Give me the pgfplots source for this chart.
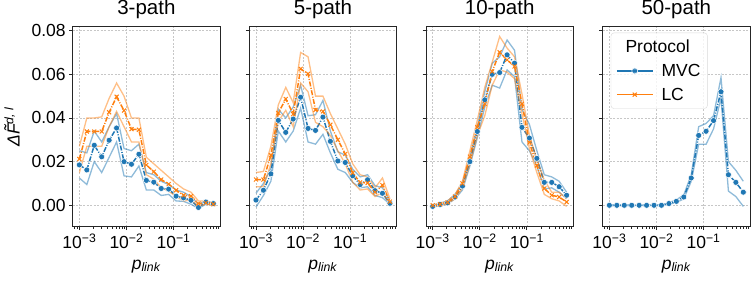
\documentclass[border=0pt]{standalone}
\usepackage{fontspec}
\setmainfont{Liberation Sans}
\usepackage{pgfplots}
\usepackage{pgfplotstable}
\pgfplotsset{compat=1.18}
\definecolor{c1}{HTML}{1F77B4}
\definecolor{c2}{HTML}{FF7F0E}
\newcommand{\fs}{\fontsize{17.5}{20}\selectfont}
\newcommand{\ft}{\fontsize{20.5}{24}\selectfont}

\pgfplotstableread{
x m mlo mhi l llo lhi
0.001    0.0185 0.0125 0.025  0.0212 0.015  0.027
0.001439 0.0162 0.0095 0.024  0.0338 0.027  0.040
0.00207  0.0275 0.020  0.034  0.0338 0.027  0.040
0.002979 0.0222 0.015  0.029  0.0338 0.027  0.0405
0.004286 0.0298 0.022  0.036  0.0426 0.036  0.049
0.006166 0.0354 0.029  0.042  0.0497 0.043  0.056
0.008872 0.0200 0.0135 0.026  0.0434 0.036  0.050
0.01276  0.0188 0.013  0.025  0.0349 0.029  0.040
0.01837  0.0234 0.018  0.028  0.0346 0.029  0.040
0.02642  0.0114 0.007  0.015  0.0185 0.014  0.022
0.03802  0.0106 0.007  0.014  0.0154 0.012  0.019
0.0547   0.0077 0.0045 0.011  0.0118 0.008  0.016
0.0787   0.0074 0.005  0.0095 0.0097 0.0065 0.013
0.1132   0.0042 0.002  0.007  0.0069 0.004  0.010
0.1629   0.0034 0.0018 0.006  0.0046 0.002  0.0075
0.2344   0.0023 0.0005 0.004  0.0042 0.0025 0.006
0.3373  -0.0010 -0.0015 0.0005 0.0008 -0.0002 0.002
0.4853   0.0015 0.0005 0.002  0.0011 0.0005 0.002
0.6982   0.0008 0.0003 0.001  0.0005 0.0    0.001
}\tA

\pgfplotstableread{
x m mlo mhi l llo lhi
0.001    0.0024 -0.0008 0.0055 0.0118 0.0085 0.015
0.001439 0.0069 0.0045 0.010  0.0118 0.0085 0.0155
0.00207  0.0144 0.011  0.017  0.0229 0.019  0.027
0.002979 0.0389 0.034  0.044  0.0423 0.0385 0.046
0.004286 0.0334 0.029  0.040  0.0487 0.0435 0.054
0.006166 0.0395 0.034  0.045  0.0418 0.036  0.047
0.008872 0.0495 0.0445 0.055  0.0625 0.056  0.070
0.01276  0.0352 0.029  0.041  0.0602 0.052  0.068
0.01837  0.0343 0.028  0.0415 0.0437 0.038  0.050
0.02642  0.0404 0.0325 0.048  0.0430 0.036  0.050
0.03802  0.0293 0.024  0.034  0.0369 0.032  0.042
0.0547   0.0203 0.0165 0.0245 0.0300 0.025  0.035
0.0787   0.0196 0.015  0.023  0.0235 0.019  0.028
0.1132   0.0135 0.0105 0.0165 0.0148 0.0105 0.019
0.1629   0.0095 0.008  0.013  0.0105 0.007  0.014
0.2344   0.0117 0.0085 0.014  0.0102 0.0075 0.013
0.3373   0.0067 0.0045 0.009  0.0060 0.004  0.008
0.4853   0.0055 0.0035 0.008  0.0092 0.006  0.0125
0.6982   0.0009 0.0005 0.002  0.0017 0.0005 0.003
}\tB

\pgfplotstableread{
x m mlo mhi l llo lhi
0.001   -0.0005 -0.001 0.0    0.0    -0.0005 0.0003
0.001439 0.0004 0.0    0.001  0.0005 0.0    0.0008
0.00207  0.0011 0.0005 0.002  0.0013 0.0008 0.002
0.002979 0.0038 0.003  0.005  0.0040 0.003  0.005
0.004286 0.0088 0.007  0.010  0.0100 0.008  0.011
0.006166 0.0200 0.018  0.022  0.0223 0.019  0.025
0.008872 0.0338 0.031  0.036  0.0358 0.032  0.039
0.01276  0.0483 0.045  0.052  0.0465 0.041  0.054
0.01837  0.0600 0.055  0.065  0.0613 0.055  0.0655
0.02642  0.0608 0.0537 0.068  0.0701 0.062  0.0773
0.03802  0.0689 0.062  0.0757 0.0666 0.061  0.072
0.0547   0.0651 0.059  0.071  0.0636 0.058  0.068
0.0787   0.0357 0.029  0.044  0.0465 0.042  0.051
0.1132   0.0308 0.025  0.037  0.0288 0.026  0.032
0.1629   0.0215 0.018  0.025  0.0182 0.015  0.021
0.2344   0.0105 0.0075 0.014  0.0077 0.005  0.0115
0.3373   0.0105 0.008  0.013  0.0046 0.003  0.006
0.4853   0.0085 0.006  0.011  0.0038 0.002  0.006
0.6982   0.0046 0.003  0.006  0.0015 -0.0005 0.003
}\tC

\pgfplotstableread{
x m mlo mhi
0.001    0.0 -0.0001 0.0001
0.001439 0.0 -0.0001 0.0001
0.00207  0.0 -0.0001 0.0001
0.002979 0.0 -0.0001 0.0001
0.004286 0.0 -0.0001 0.0001
0.006166 0.0 -0.0001 0.0001
0.008872 0.0 -0.0001 0.0001
0.01276  0.0 -0.0001 0.0002
0.01837  0.0008 0.0005 0.0012
0.02642  0.0018 0.0012 0.0025
0.03802  0.0038 0.003  0.0048
0.0547   0.0125 0.011  0.014
0.0787   0.0320 0.028  0.036
0.1132   0.0339 0.028  0.0375
0.1629   0.0388 0.035  0.041
0.2344   0.0520 0.049  0.0585
0.3373   0.0140 0.0065 0.020
0.4853   0.0105 0.004  0.016
0.6982   0.0060 -0.0005 0.011
}\tD

\pgfplotsset{
  scale only axis, width=147.3pt, height=200pt,
  xmin=7.21e-4, xmax=0.968, ymin=-0.0098, ymax=0.0818,
  xtick={0.001,0.01,0.1},
  xticklabels={10\textsuperscript{−3},10\textsuperscript{−2},10\textsuperscript{−1}},
  minor xtick={0.0008,0.0009,0.002,0.003,0.004,0.005,0.006,0.007,0.008,0.009,0.02,0.03,0.04,0.05,0.06,0.07,0.08,0.09,0.2,0.3,0.4,0.5,0.6,0.7,0.8,0.9},
  ytick={0,0.02,0.04,0.06,0.08},
  scaled y ticks=false,
  yticklabel style={/pgf/number format/fixed, /pgf/number format/fixed zerofill, /pgf/number format/precision=2, /pgf/number format/assume math mode=true},
  tick align=outside, tick pos=left,
  major tick length=3.5pt, minor tick length=2pt,
  grid=major, major grid style={dash pattern=on 2pt off 1.5pt, black!22, line width=0.6pt},
  axis line style={black!85, line width=0.9pt},
  every tick/.append style={black!85, line width=0.8pt},
  title style={font=\ft, at={(0.5,1)}, anchor=base, yshift=6pt},
  ticklabel style={font=\fs},
  label style={font=\fs},
  xlabel style={yshift=-4pt},
  ylabel style={yshift=5pt},
  bnd/.style={mark=none, line width=1.3pt, opacity=0.5, forget plot},
  mvc/.style={color=c1, line width=1.5pt, dash pattern=on 5pt off 1.5pt on 1pt off 1.5pt, mark=*, mark size=3pt, mark options={solid, fill=c1, draw=white, line width=0.5pt}},
  lc/.style={color=c2, line width=1.5pt, dash pattern=on 5pt off 1.5pt on 1pt off 1.5pt, mark=x, mark size=2.8pt, mark options={solid, line width=1pt}},
}

\begin{document}
\begin{tikzpicture}
\useasboundingbox (0,0) rectangle (756pt,288pt);

\begin{semilogxaxis}[at={(72.7pt,61.3pt)}, anchor=south west, title={3-path},
  xlabel={\textit{p}\textsubscript{\textit{link}}},
  ylabel={\textit{Δ\~{F}}\textsuperscript{\textit{d, l}}}]
\addplot[bnd, c1] table[x=x,y=mlo] {\tA};
\addplot[bnd, c1] table[x=x,y=mhi] {\tA};
\addplot[mvc] table[x=x,y=m] {\tA};
\addplot[bnd, c2] table[x=x,y=llo] {\tA};
\addplot[bnd, c2] table[x=x,y=lhi] {\tA};
\addplot[lc] table[x=x,y=l] {\tA};
\end{semilogxaxis}

\begin{semilogxaxis}[at={(249.3pt,61.3pt)}, anchor=south west, title={5-path}, yticklabels={},
  xlabel={\textit{p}\textsubscript{\textit{link}}}]
\addplot[bnd, c1] table[x=x,y=mlo] {\tB};
\addplot[bnd, c1] table[x=x,y=mhi] {\tB};
\addplot[mvc] table[x=x,y=m] {\tB};
\addplot[bnd, c2] table[x=x,y=llo] {\tB};
\addplot[bnd, c2] table[x=x,y=lhi] {\tB};
\addplot[lc] table[x=x,y=l] {\tB};
\end{semilogxaxis}

\begin{semilogxaxis}[at={(426pt,61.3pt)}, anchor=south west, title={10-path}, yticklabels={},
  xlabel={\textit{p}\textsubscript{\textit{link}}}]
\addplot[bnd, c1] table[x=x,y=mlo] {\tC};
\addplot[bnd, c1] table[x=x,y=mhi] {\tC};
\addplot[mvc] table[x=x,y=m] {\tC};
\addplot[bnd, c2] table[x=x,y=llo] {\tC};
\addplot[bnd, c2] table[x=x,y=lhi] {\tC};
\addplot[lc] table[x=x,y=l] {\tC};
\end{semilogxaxis}

\begin{semilogxaxis}[at={(602.7pt,61.3pt)}, anchor=south west, title={50-path}, yticklabels={},
  xlabel={\textit{p}\textsubscript{\textit{link}}},
  legend cell align=left,
  legend image code/.code={\draw[mark repeat=2,mark phase=2,#1,solid] plot coordinates {(0pt,0pt)(18pt,0pt)(36pt,0pt)};},
  legend style={at={(0.055,0.97)}, anchor=north west, draw=black!15, rounded corners=3pt,
    fill=white, fill opacity=0.8, text opacity=1, draw opacity=1, font=\fs,
    row sep=6pt, inner xsep=5pt, inner ysep=5pt,
    nodes={inner sep=2pt}}]
\addplot[bnd, c1] table[x=x,y=mlo] {\tD};
\addplot[bnd, c1] table[x=x,y=mhi] {\tD};
\addplot[mvc, forget plot] table[x=x,y=m] {\tD};
\addlegendimage{empty legend}\addlegendentry{\hspace*{-30pt}Protocol}
\addlegendimage{mvc}\addlegendentry{\hspace*{6pt}MVC}
\addlegendimage{lc}\addlegendentry{\hspace*{6pt}LC}
\end{semilogxaxis}
\end{tikzpicture}
\end{document}
